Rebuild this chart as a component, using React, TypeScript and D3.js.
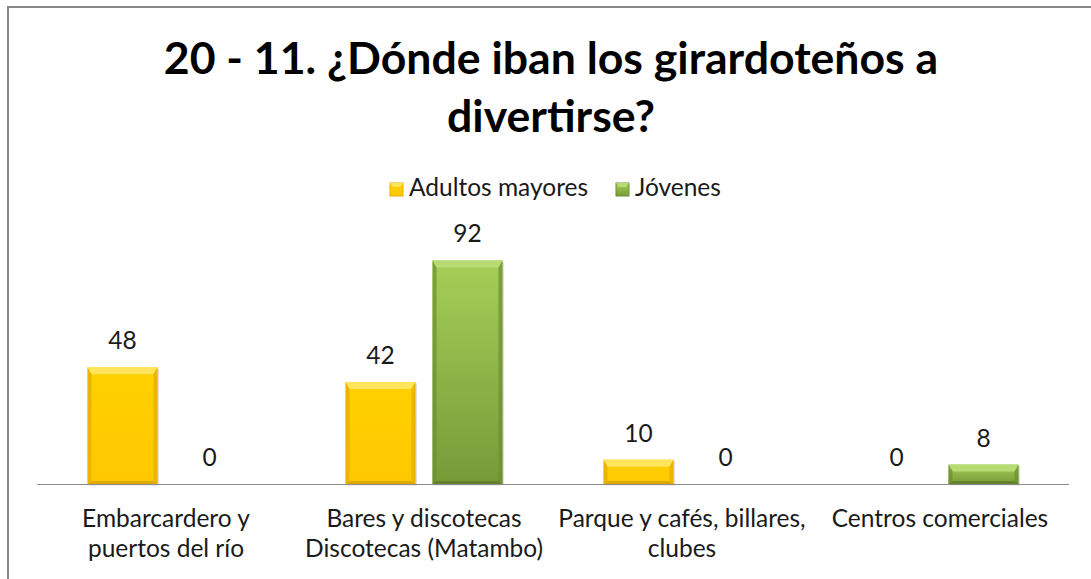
import React from "react";
import * as d3 from "d3";

const titleLines = ["20 - 11. ¿Dónde iban los girardoteños a", "divertirse?"];
const categories = [
  ["Embarcardero y", "puertos del río"],
  ["Bares y discotecas", "Discotecas (Matambo)"],
  ["Parque y cafés, billares,", "clubes"],
  ["Centros comerciales"],
];
const seriesNames = ["Adultos mayores", "Jóvenes"];
const adultos = [48, 42, 10, 0];
const jovenes = [0, 92, 0, 8];

const W = 1091;
const H = 579;
const FONT = "Lato, 'Open Sans', sans-serif";

const palette = [
  { top: "#FFE45C", body0: "#FFD000", body1: "#FFC800", side: "#E6AE00", bottom: "#D9A000", id: "gY" },
  { top: "#B8DC74", body0: "#A5CF58", body1: "#779A38", side: "#6E9030", bottom: "#5E7C28", id: "gG" },
];

function Bar({ x, y, w, h, p }: any) {
  if (h <= 0) return null;
  const b = Math.min(7, h / 2.5);
  const s = Math.min(4, w / 4);
  const bb = Math.min(3, h / 4);
  const pts = (a: number[][]) => a.map((q) => q.join(",")).join(" ");
  return (
    <g>
      <rect x={x + 1.5} y={y + 1.5} width={w} height={h} fill="rgba(0,0,0,0.12)" />
      <rect x={x} y={y} width={w} height={h} fill={`url(#${p.id})`} />
      <polygon points={pts([[x, y], [x + w, y], [x + w - s, y + b], [x + s, y + b]])} fill={p.top} />
      <polygon points={pts([[x, y], [x + s, y + b], [x + s, y + h - bb], [x, y + h]])} fill={p.side} opacity={0.75} />
      <polygon points={pts([[x + w, y], [x + w - s, y + b], [x + w - s, y + h - bb], [x + w, y + h]])} fill={p.side} opacity={0.75} />
      <polygon points={pts([[x, y + h], [x + s, y + h - bb], [x + w - s, y + h - bb], [x + w, y + h]])} fill={p.bottom} opacity={0.8} />
    </g>
  );
}

export default function App() {
  const x0 = d3.scaleBand<number>().domain(d3.range(categories.length)).range([37, 1069]).paddingInner(0).paddingOuter(0);
  const x1 = d3.scaleBand<number>().domain([0, 1]).range([50.5, 207.5]).paddingInner(17 / 87).paddingOuter(0);
  const y = d3.scaleLinear().domain([0, 100]).range([484, 241]);
  const series = [adultos, jovenes];
  const legendX = [390, 616];

  return (
    <svg width={W} height={H} style={{ position: "absolute", left: 0, top: 0, background: "#fff" }} fontFamily={FONT}>
      <defs>
        {palette.map((p) => (
          <linearGradient key={p.id} id={p.id} x1="0" y1="0" x2="0" y2="1">
            <stop offset="0" stopColor={p.body0} />
            <stop offset="1" stopColor={p.body1} />
          </linearGradient>
        ))}
      </defs>
      <rect x={0} y={0} width={W} height={H} fill="#fff" />
      <line x1={8} y1={7} x2={W} y2={7} stroke="#888" strokeWidth={2} />
      <line x1={8} y1={6} x2={8} y2={H} stroke="#888" strokeWidth={2} />

      {titleLines.map((t, i) => (
        <text key={i} x={551} y={74 + i * 58} textAnchor="middle" fontSize={44.6} fontWeight="bold" fill="#000">
          {t}
        </text>
      ))}

      {/* legend */}
      {seriesNames.map((n, i) => {
        const lx = legendX[i];
        return (
          <g key={n}>
            <rect x={lx} y={183} width={13} height={13} fill={`url(#${palette[i].id})`} stroke={palette[i].side} strokeWidth={1} />
            <polygon points={`${lx},${183} ${lx + 13},${183} ${lx + 10},${187} ${lx + 3},${187}`} fill={palette[i].top} />
            <text x={lx + 19} y={196} fontSize={24.5} fill="#1a1a1a">
              {n}
            </text>
          </g>
        );
      })}

      {/* bars */}
      {categories.map((c, ci) =>
        series.map((s, si) => {
          const v = s[ci];
          const bx = x0(ci)! + x1(si)!;
          const bw = x1.bandwidth();
          const by = y(v);
          return (
            <g key={`${ci}-${si}`}>
              <Bar x={bx} y={by} w={bw} h={y(0) - by} p={palette[si]} />
              <text x={bx + bw / 2} y={by - 18} textAnchor="middle" fontSize={24.5} fill="#1a1a1a">
                {v}
              </text>
            </g>
          );
        })
      )}

      <line x1={37} x2={1069} y1={y(0) + 0.5} y2={y(0) + 0.5} stroke="#8c8c8c" strokeWidth={1} />

      {categories.map((c, ci) => (
        <text key={ci} textAnchor="middle" fontSize={24.5} fill="#1a1a1a">
          {c.map((line, li) => (
            <tspan key={li} x={x0(ci)! + x0.bandwidth() / 2} y={527 + li * 30}>
              {line}
            </tspan>
          ))}
        </text>
      ))}
    </svg>
  );
}
